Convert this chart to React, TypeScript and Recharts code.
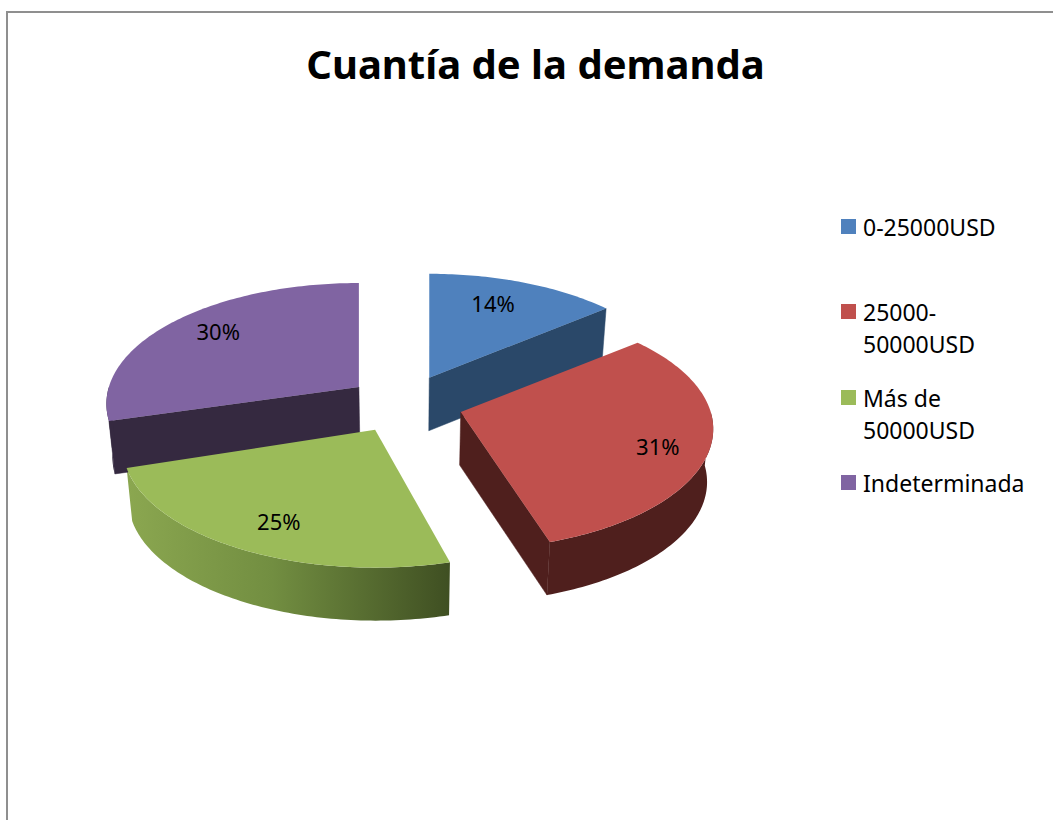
import React from 'react';
import { PieChart, Pie, Legend } from 'recharts';

const categories = ['0-25000USD', '25000-50000USD', 'Más de 50000USD', 'Indeterminada'];
const shares = [14, 31, 25, 30];
const topColors = ['#4f81bd', '#c0504d', '#9bbb59', '#8064a2'];
const wallColors = ['#2a4869', '#4f1f1d', 'url(#greenWall)', '#352940'];

// small per-slice corrections to follow the original 3D projection
const sliceShiftX = [0, 1, -4, 0];
const startTrim = [0, 0, 3, 2];
const labelNudgeX = [-10, 10, -5, 4];
const labelNudgeY = [0, 8, 3, -6];

const FONT = '"Noto Sans", sans-serif';
const DEPTH = 53; // height of the 3D walls
const BOTTOM_SCALE = 0.98; // lower rim is a bit narrower than the top
const SQUASH = 0.474; // vertical flattening of the pie
const PERSPECTIVE = 0.14; // front of the pie looks bigger than the back
const EXPLODE_X = 57;
const EXPLODE_Y = 29;

const pieData = categories.map((name, i) => ({
  name,
  value: shares[i],
  fill: topColors[i],
  wall: wallColors[i],
}));

type Pt = { x: number; y: number };

const rad = (deg: number) => (deg * Math.PI) / 180;

// Project a point of the flat pie (angle, radius 0..1) onto the screen
const project = (cx: number, cy: number, radius: number, midAngle: number, angle: number, r: number, shift = 0): Pt => {
  const apexX = cx + shift + EXPLODE_X * Math.cos(rad(midAngle));
  const apexY = cy - EXPLODE_Y * Math.sin(rad(midAngle));
  const u = r * Math.cos(rad(angle));
  const v = -r * Math.sin(rad(angle));
  const w = 1 - PERSPECTIVE * v;
  return { x: apexX + (radius * u) / w, y: apexY + (radius * SQUASH * v) / w };
};

const arcAngles = (startAngle: number, endAngle: number) => {
  const steps = Math.max(2, Math.ceil(Math.abs(endAngle - startAngle)));
  const out: number[] = [];
  for (let i = 0; i <= steps; i++) out.push(startAngle + ((endAngle - startAngle) * i) / steps);
  return out;
};

const toPath = (pts: Pt[]) => `M${pts.map((p) => `${p.x.toFixed(2)},${p.y.toFixed(2)}`).join('L')}Z`;

const TopFace = (props: any) => {
  const { cx, cy, outerRadius, startAngle, endAngle, fill, name } = props;
  const i = categories.indexOf(name);
  const mid = (startAngle + endAngle) / 2;
  const apex = project(cx, cy, outerRadius, mid, 0, 0, sliceShiftX[i]);
  const arc = arcAngles(startAngle - startTrim[i], endAngle).map((a) =>
    project(cx, cy, outerRadius, mid, a, 1, sliceShiftX[i])
  );
  return <path d={toPath([apex, ...arc])} fill={fill} stroke="none" />;
};

const Walls = (props: any) => {
  const { cx, cy, outerRadius, startAngle, endAngle, name, wall } = props;
  const i = categories.indexOf(name);
  const mid = (startAngle + endAngle) / 2;
  const from = startAngle - startTrim[i];
  const apex = project(cx, cy, outerRadius, mid, 0, 0, sliceShiftX[i]);
  const inner = project(cx, cy, outerRadius, mid, mid, 1, sliceShiftX[i]);
  const down = (p: Pt) => ({ x: cx + (p.x - cx) * BOTTOM_SCALE, y: p.y + DEPTH });

  // A cut edge only shows when the slice lies above it on screen
  const edges = [from, endAngle]
    .map((a) => project(cx, cy, outerRadius, mid, a, 1, sliceShiftX[i]))
    .filter((p) => {
      if (Math.abs(p.x - apex.x) < 1) return false;
      const lineY = apex.y + ((p.y - apex.y) * (inner.x - apex.x)) / (p.x - apex.x);
      return inner.y < lineY;
    });

  // Outer rim, front half only
  const rim = arcAngles(from, endAngle)
    .filter((a) => Math.sin(rad(a)) <= 0)
    .map((a) => project(cx, cy, outerRadius, mid, a, 1, sliceShiftX[i]));

  return (
    <g>
      {edges.map((p, n) => (
        <path key={n} d={toPath([apex, p, down(p), down(apex)])} fill={wall} stroke={wall} strokeWidth={0.5} />
      ))}
      {rim.length > 1 && (
        <path d={toPath([...rim, ...rim.map(down).reverse()])} fill={wall} stroke="none" />
      )}
    </g>
  );
};

const renderShare = (props: any) => {
  const { cx, cy, outerRadius, midAngle, percent, name } = props;
  const i = categories.indexOf(name);
  const p = project(cx, cy, outerRadius, midAngle, midAngle, 0.76);
  return (
    <text
      x={p.x + labelNudgeX[i]}
      y={p.y + labelNudgeY[i]}
      textAnchor="middle"
      dominantBaseline="central"
      fontFamily={FONT}
      fontSize={22}
      fill="#000"
    >
      {`${Math.round(percent * 100)}%`}
    </text>
  );
};

const LegendRows = ({ payload }: any) => (
  <div style={{ fontFamily: FONT, fontSize: 23, lineHeight: '32px', color: '#000' }}>
    {(payload || [])
      .filter((entry: any) => entry.type !== 'none')
      .map((entry: any) => (
        <div key={entry.value} style={{ height: 85.4, position: 'relative', paddingLeft: 22, width: 170 }}>
          <span
            style={{
              position: 'absolute',
              left: 0,
              top: 8,
              width: 15,
              height: 15,
              background: entry.color,
            }}
          />
          {entry.value}
        </div>
      ))}
  </div>
);

export default function App() {
  return (
    <div style={{ position: 'absolute', left: 0, top: 0, width: 1053, height: 820, overflow: 'hidden', background: '#fff' }}>
      <div
        style={{
          position: 'absolute',
          left: 6,
          top: 11,
          width: 1100,
          height: 900,
          borderLeft: '2px solid #8f8f8f',
          borderTop: '2px solid #8f8f8f',
        }}
      />
      <PieChart width={1053} height={820} margin={{ top: 0, right: 0, bottom: 0, left: 0 }} style={{ position: 'absolute', left: 0, top: 0 }}>
        <defs>
          <linearGradient id="greenWall" x1="0" y1="0" x2="1" y2="0">
            <stop offset="0%" stopColor="#8ba750" />
            <stop offset="45%" stopColor="#728e41" />
            <stop offset="100%" stopColor="#3f4f22" />
          </linearGradient>
        </defs>
        <text x={535.5} y={79} textAnchor="middle" fontFamily={FONT} fontWeight={700} fontSize={40} fill="#000">
          Cuantía de la demanda
        </text>
        <Pie
          data={pieData}
          dataKey="value"
          nameKey="name"
          cx={405}
          cy={404}
          outerRadius={250}
          startAngle={90}
          endAngle={-270}
          shape={Walls}
          legendType="none"
          isAnimationActive={false}
        />
        <Pie
          data={pieData}
          dataKey="value"
          nameKey="name"
          cx={405}
          cy={404}
          outerRadius={250}
          startAngle={90}
          endAngle={-270}
          shape={TopFace}
          label={renderShare}
          labelLine={false}
          isAnimationActive={false}
        />
        <Legend
          layout="vertical"
          align="right"
          verticalAlign="top"
          itemSorter={null}
          content={<LegendRows />}
          wrapperStyle={{ position: 'absolute', left: 841, top: 211, width: 200 }}
        />
      </PieChart>
    </div>
  );
}
